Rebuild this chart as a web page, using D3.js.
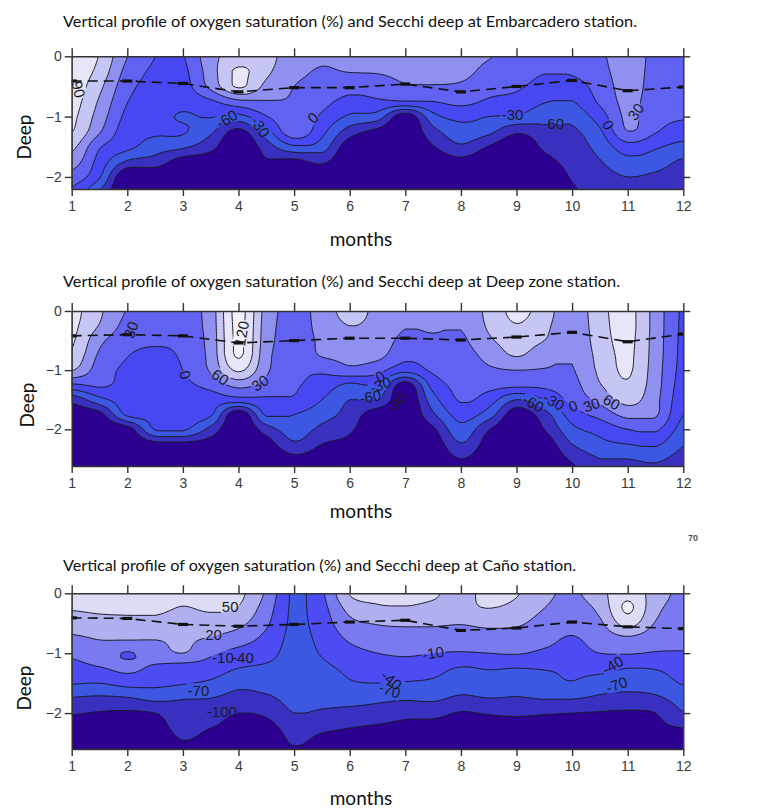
<!DOCTYPE html>
<html><head><meta charset="utf-8">
<script src="https://cdn.jsdelivr.net/npm/d3@7"></script>
<style>body{margin:0;background:#fff}svg{display:block}</style>
</head><body>
<svg id="c" width="781" height="812"></svg>
<script>
// ---------------- DATA ----------------
const monthTicks = [1,2,3,4,5,6,7,8,9,10,11,12];
const depthTicks = [0,-1,-2];
const gridMonths = [1,1.5,2,2.5,3,3.5,4,4.5,5,5.5,6,6.5,7,7.5,8,8.5,9,9.5,10,10.5,11,11.5,12];
const gridDepthsEmb = [0,-0.25,-0.5,-0.75,-1,-1.25,-1.5,-1.75,-2,-2.25];
const gridDepthsDeep = [0,-0.25,-0.5,-0.75,-1,-1.25,-1.5,-1.75,-2,-2.25,-2.5,-2.75];
const gridDepthsCano = [0,-0.25,-0.5,-0.75,-1,-1.25,-1.5,-1.75,-2,-2.25,-2.5,-2.75];
const levelsEmbDeep = [-90,-60,-30,0,30,60,90,120];
const levelsCano = [-100,-70,-40,-10,20,50,80];

// oxygen saturation (%) : one column per grid month, values from surface down
const oxygenEmbarcadero = [
 [115,112,108,103,97,91,68,45,18,-5],
 [88,80,67,56,46,33,3,-12,-27,-62],
 [30,20,10,1,-8,-17,-22,-65,-125,-130],
 [0,-5,-10,-14,-19,-25,-45,-75,-115,-125],
 [-2,-7,-12,-20,-33,-27,-55,-105,-120,-125],
 [50,46,38,-5,-28,-55,-80,-110,-120,-125],
 [72,96,94,22,-40,-100,-120,-125,-128,-130],
 [70,66,52,28,-2,-42,-75,-95,-120,-125],
 [42,38,30,27,24,20,-35,-100,-120,-125],
 [33,28,22,10,-5,-22,-45,-85,-115,-125],
 [38,31,12,-10,-35,-75,-110,-120,-125,-128],
 [36,32,15,-5,-45,-100,-115,-120,-125,-128],
 [40,36,27,-2,-110,-120,-124,-126,-128,-130],
 [42,38,28,0,-40,-70,-92,-115,-122,-126],
 [45,40,25,8,-22,-42,-65,-100,-118,-125],
 [32,20,9,-4,-30,-53,-92,-118,-123,-126],
 [18,12,4,-10,-34,-85,-115,-122,-125,-128],
 [12,2,-10,-28,-48,-72,-85,-100,-115,-122],
 [14,4,-12,-31,-50,-66,-74,-80,-87,-95],
 [25,20,12,5,-15,-35,-50,-62,-72,-80],
 [45,44,42,38,36,29,-12,-40,-60,-70],
 [22,20,18,15,10,2,-26,-46,-66,-76],
 [20,18,15,10,3,-15,-40,-65,-78,-85]
];
const oxygenDeepZone = [
 [100,97,94,85,62,-5,-80,-110,-118,-122,-125,-128],
 [65,58,38,25,15,5,-40,-100,-115,-120,-125,-128],
 [28,20,10,1,-5,-10,-15,-24,-105,-118,-124,-128],
 [18,10,3,-4,-8,-12,-16,-22,-28,-100,-120,-126],
 [15,12,8,4,0,-6,-12,-18,-25,-98,-118,-125],
 [45,44,42,40,34,10,-15,-26,-70,-105,-120,-126],
 [130,128,126,124,95,40,-12,-115,-122,-125,-127,-130],
 [48,46,44,40,35,20,-5,-25,-75,-105,-120,-126],
 [20,18,15,12,8,4,-4,-30,-45,-65,-100,-120],
 [42,40,36,32,5,-12,-30,-48,-68,-90,-110,-120],
 [72,60,48,38,22,-36,-60,-72,-85,-100,-115,-122],
 [52,50,45,38,10,-30,-60,-110,-118,-122,-125,-128],
 [40,32,22,8,-20,-105,-118,-122,-125,-127,-128,-130],
 [40,35,24,12,5,-18,-42,-65,-95,-112,-120,-125],
 [36,32,24,16,12,8,3,-18,-40,-62,-90,-110],
 [68,64,55,40,25,10,-15,-45,-88,-105,-115,-122],
 [98,88,72,62,30,8,-60,-110,-120,-124,-126,-128],
 [75,68,60,42,28,8,-30,-72,-90,-110,-118,-124],
 [40,38,35,32,28,20,10,-15,-38,-60,-85,-100],
 [80,78,75,70,66,58,38,10,-20,-38,-60,-68],
 [100,100,98,96,94,86,70,40,0,-30,-60,-70],
 [48,48,47,46,44,42,38,34,5,-25,-55,-68],
 [-5,-6,-7,-8,-10,-14,-20,-30,-42,-58,-70,-80]
];
const oxygenCano = [
 [58,52,35,15,-4,-20,-38,-72,-98,-110,-115,-120],
 [62,55,40,22,5,-12,-40,-75,-102,-110,-115,-120],
 [65,56,42,24,-12,-4,-30,-72,-104,-112,-116,-120],
 [68,58,40,22,5,-15,-32,-62,-100,-110,-116,-120],
 [60,48,32,24,20,-25,-38,-68,-82,-92,-102,-115],
 [68,55,35,18,-5,-25,-45,-70,-90,-100,-110,-120],
 [58,48,28,5,-20,-40,-62,-80,-100,-106,-112,-118],
 [15,5,-5,-18,-30,-45,-58,-75,-95,-110,-118,-122],
 [-45,-45,-46,-48,-50,-52,-55,-60,-70,-88,-98,-108],
 [-15,-20,-25,-32,-38,-45,-50,-58,-75,-95,-108,-115],
 [52,30,12,-5,-20,-35,-42,-55,-82,-100,-112,-118],
 [60,45,22,5,-10,-28,-40,-62,-85,-104,-115,-120],
 [55,48,25,6,-6,-25,-42,-66,-92,-108,-116,-120],
 [52,45,25,4,-10,-30,-45,-64,-92,-110,-118,-122],
 [45,44,22,2,-12,-42,-55,-75,-102,-112,-118,-122],
 [55,50,28,5,-10,-38,-50,-70,-98,-110,-118,-122],
 [52,42,25,5,-8,-40,-55,-72,-96,-110,-118,-122],
 [28,20,8,-2,-15,-38,-50,-68,-98,-110,-118,-122],
 [15,8,0,-12,-20,-35,-42,-68,-100,-110,-118,-122],
 [40,28,15,2,-10,-30,-55,-75,-102,-110,-118,-122],
 [72,85,62,15,-8,-40,-60,-78,-104,-112,-118,-122],
 [35,28,18,2,-12,-38,-55,-75,-100,-106,-112,-118],
 [12,10,5,-2,-12,-28,-38,-58,-72,-100,-108,-115]
];

// Secchi depth (m) per month
const secchiEmbarcadero = [-0.41,-0.41,-0.45,-0.59,-0.52,-0.52,-0.46,-0.59,-0.50,-0.40,-0.57,-0.51];
const secchiDeepZone   = [-0.42,-0.40,-0.42,-0.54,-0.50,-0.46,-0.46,-0.49,-0.44,-0.36,-0.52,-0.39];
const secchiCano       = [-0.41,-0.42,-0.52,-0.55,-0.52,-0.48,-0.45,-0.62,-0.58,-0.48,-0.56,-0.59];

// contour labels: [month, depth, text, angle]
const labelsEmbarcadero = [[1.12,-0.55,"90",75],[3.79,-1.04,"-60",-30],[4.39,-1.17,"-30",55],[5.34,-1.02,"0",-45],[8.93,-0.97,"-30",0],[9.66,-1.11,"-60",0],[10.65,-1.14,"0",60],[11.15,-0.92,"30",-55]];
const labelsDeepZone = [[2.07,-0.32,"30",-70],[4.06,-0.38,"120",-80],[3.04,-1.08,"0",70],[3.67,-1.12,"60",35],[4.39,-1.22,"30",-35],[6.55,-1.11,"0",-30],[6.55,-1.25,"-30",-20],[6.37,-1.45,"-60",-10],[6.85,-1.55,"-90",-45],[9.3,-1.56,"-60",30],[9.67,-1.53,"-30",30],[10.02,-1.61,"0",-20],[10.35,-1.59,"30",-20],[10.71,-1.54,"60",30]];
const labelsCano = [[3.85,-0.22,"50",0],[3.55,-0.7,"20",0],[3.72,-1.07,"-10",0],[4.08,-1.08,"-40",0],[3.28,-1.63,"-70",0],[3.7,-1.98,"-100",0],[7.5,-1.0,"-10",-10],[6.75,-1.45,"-40",40],[6.72,-1.62,"-70",20],[10.73,-1.2,"-40",-30],[10.8,-1.53,"-70",-20]];

const titles = [
 "Vertical profile of oxygen saturation (%) and Secchi deep at Embarcadero station.",
 "Vertical profile of oxygen saturation (%) and Secchi deep at Deep zone  station.",
 "Vertical profile of oxygen saturation (%) and Secchi deep at Caño station."
];

// ---------------- STYLE / LAYOUT ----------------
const paletteEmbDeep = ["#2c0090","#3a30c0","#3c58e2","#4848f2","#6262f2","#9090f0","#c6c6f4","#e6e6f8","#f2f2fc"];
const paletteCano = ["#2c0090","#3a30c0","#3c58e2","#4c4cf2","#7a7af0","#b0b0f0","#dcdcf6","#eeeefa"];
const X0 = 71.7, X1 = 683.3;
const panels = [
 {title:titles[0], tW:574, tY:27, top:56.3, bottom:189, dmin:-2.2, grid:oxygenEmbarcadero, depths:gridDepthsEmb, levels:levelsEmbDeep, pal:paletteEmbDeep, secchi:secchiEmbarcadero, labels:labelsEmbarcadero, mY:246, dX:24, dY:137},
 {title:titles[1], tW:557, tY:286.5, top:311, bottom:466, dmin:-2.62, grid:oxygenDeepZone, depths:gridDepthsDeep, levels:levelsEmbDeep, pal:paletteEmbDeep, secchi:secchiDeepZone, labels:labelsDeepZone, mY:518, dX:27, dY:405},
 {title:titles[2], tW:513, tY:571, top:593.3, bottom:749, dmin:-2.6, grid:oxygenCano, depths:gridDepthsCano, levels:levelsCano, pal:paletteCano, secchi:secchiCano, labels:labelsCano, mY:805, dX:24, dY:688}
];

const svg = d3.select("#c");
const defs = svg.append("defs");

function cr(p0,p1,p2,p3,t){
  const v = 0.5*(2*p1 + (-p0+p2)*t + (2*p0-5*p1+4*p2-p3)*t*t + (-p0+3*p1-3*p2+p3)*t*t*t);
  const lo = Math.min(p1,p2), hi = Math.max(p1,p2);
  return Math.max(lo, Math.min(hi, v));
}
function sample1(arr,u){
  const n = arr.length;
  const i = Math.max(0, Math.min(n-2, Math.floor(u)));
  const t = u - i;
  const g = k => arr[Math.max(0, Math.min(n-1, k))];
  return cr(g(i-1), g(i), g(i+1), g(i+2), t);
}
function resample(cols,nx,ny){
  const C = cols.length, R = cols[0].length;
  const out = new Float64Array(nx*ny);
  for (let j=0;j<ny;j++){
    const v = j*(R-1)/(ny-1);
    const cv = cols.map(c => sample1(c, v));
    for (let i=0;i<nx;i++){
      out[j*nx+i] = sample1(cv, i*(C-1)/(nx-1));
    }
  }
  return out;
}

panels.forEach((p,pi) => {
  const xs = d3.scaleLinear().domain([1,12]).range([X0,X1]);
  const ys = d3.scaleLinear().domain([0,p.dmin]).range([p.top,p.bottom]);
  const g = svg.append("g");

  g.append("text").attr("x",63).attr("y",p.tY).text(p.title)
    .attr("font-family","Lato, 'Open Sans', sans-serif").attr("font-size",15).attr("fill","#111")
    .attr("textLength",p.tW).attr("lengthAdjust","spacingAndGlyphs");

  const cid = "clip"+pi;
  defs.append("clipPath").attr("id",cid).append("rect")
    .attr("x",X0).attr("y",p.top).attr("width",X1-X0).attr("height",p.bottom-p.top);

  const nx = 221;
  const depthMax = -p.depths[p.depths.length-1];
  const ny = Math.round(depthMax/0.025)+1;
  const dm = (gridMonths[gridMonths.length-1]-gridMonths[0])/(nx-1);
  const dd = depthMax/(ny-1);
  const vals = resample(p.grid, nx, ny);
  const contours = d3.contours().size([nx,ny]).thresholds(p.levels)(vals);
  const path = d3.geoPath(d3.geoTransform({point(x,y){
    this.stream.point(xs(gridMonths[0]+(x-0.5)*dm), ys(-(y-0.5)*dd));
  }}));

  const plot = g.append("g").attr("clip-path",`url(#${cid})`);
  plot.append("rect").attr("x",X0).attr("y",p.top).attr("width",X1-X0).attr("height",p.bottom-p.top)
    .attr("fill",p.pal[0]);
  plot.append("g").selectAll("path").data(contours).join("path")
    .attr("d",path).attr("fill",(d,i)=>p.pal[i+1]);

  const mid = "mask"+pi;
  const mask = defs.append("mask").attr("id",mid).attr("maskUnits","userSpaceOnUse")
    .attr("x",0).attr("y",0).attr("width",781).attr("height",812);
  mask.append("rect").attr("x",0).attr("y",0).attr("width",781).attr("height",812).attr("fill","#fff");

  const lines = plot.append("g").attr("mask",`url(#${mid})`);
  lines.selectAll("path").data(contours).join("path")
    .attr("d",path).attr("fill","none").attr("stroke","#1a1a28").attr("stroke-width",1.0);

  const sl = d3.line().x((d,i)=>xs(monthTicks[i])).y(d=>ys(d));
  plot.append("path").attr("d",sl(p.secchi)).attr("fill","none")
    .attr("stroke","#111").attr("stroke-width",1.6).attr("stroke-dasharray","10,6");
  plot.append("g").selectAll("rect").data(p.secchi).join("rect")
    .attr("x",(d,i)=>xs(monthTicks[i])-5).attr("y",d=>ys(d)-1.6)
    .attr("width",10).attr("height",3.2).attr("fill","#111");

  const lab = plot.append("g");
  p.labels.forEach(L => {
    const t = lab.append("text")
      .attr("transform",`translate(${xs(L[0])},${ys(L[1])}) rotate(${L[3]})`)
      .attr("text-anchor","middle").attr("dy","0.35em")
      .attr("font-family","'Liberation Sans', Arial, sans-serif").attr("font-size",15)
      .attr("fill","#1a1a22").text(L[2]);
    const bb = t.node().getBBox();
    mask.append("rect").attr("transform",`translate(${xs(L[0])},${ys(L[1])}) rotate(${L[3]})`)
      .attr("x",bb.x-1).attr("y",bb.y+1).attr("width",bb.width+2).attr("height",bb.height-2).attr("fill","#000");
  });

  const axStyle = sel => {
    sel.selectAll("path,line").attr("stroke","#333").attr("stroke-width",1.4);
    sel.selectAll("text").attr("font-family","'Liberation Sans', Arial, sans-serif").attr("font-size",14).attr("fill","#3a3a3a");
  };
  g.append("g").attr("transform",`translate(0,${p.bottom})`)
    .call(d3.axisBottom(xs).tickValues(monthTicks).tickSize(7).tickSizeOuter(0).tickPadding(5).tickFormat(d3.format("d")))
    .call(axStyle);
  g.append("g").attr("transform",`translate(0,${p.top})`)
    .call(d3.axisTop(xs).tickValues(monthTicks).tickSize(8).tickSizeOuter(0).tickFormat(""))
    .call(axStyle);
  g.append("g").attr("transform",`translate(${X0},0)`)
    .call(d3.axisLeft(ys).tickValues(depthTicks).tickSize(7).tickSizeOuter(0).tickPadding(3).tickFormat(d3.format("d")))
    .call(axStyle);
  g.append("g").attr("transform",`translate(${X1},0)`)
    .call(d3.axisRight(ys).tickValues(depthTicks).tickSize(7).tickSizeOuter(0).tickFormat(""))
    .call(axStyle);

  g.append("text").attr("x",361).attr("y",p.mY).attr("text-anchor","middle")
    .attr("font-family","Lato, 'Open Sans', sans-serif").attr("font-size",19).attr("fill","#111").text("months");
  g.append("text").attr("transform",`translate(${p.dX},${p.dY}) rotate(-90)`).attr("text-anchor","middle")
    .attr("dy","0.35em").attr("font-family","Lato, 'Open Sans', sans-serif").attr("font-size",19).attr("fill","#111").text("Deep");
});

svg.append("text").attr("x",693).attr("y",541).attr("text-anchor","middle")
  .attr("font-family","'Liberation Sans', Arial, sans-serif").attr("font-size",9).attr("font-weight","bold")
  .attr("fill","#555").text("70");
</script>
</body></html>
